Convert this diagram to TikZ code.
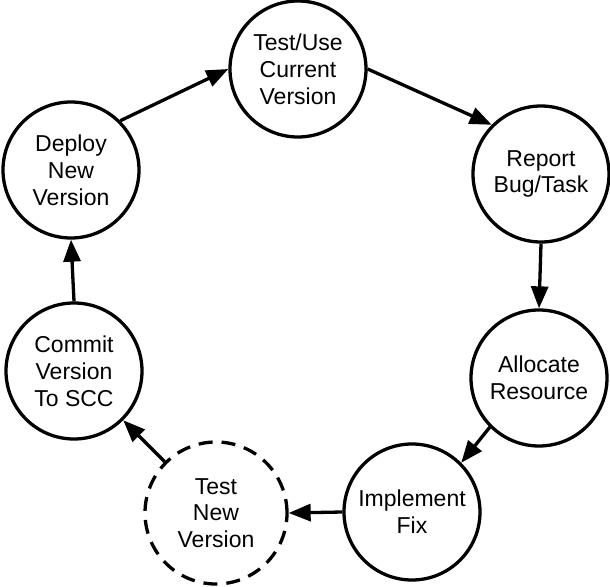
\documentclass[tikz,border=0pt]{standalone}
\usepackage{fontspec}
\setmainfont{Liberation Sans}
\usetikzlibrary{arrows.meta}
\begin{document}
\begin{tikzpicture}[x=1pt,y=-1pt,
  stage/.style={circle,draw,line width=3.3pt,minimum size=136pt,inner sep=0pt,align=center,
    font=\fontsize{23}{26.8}\selectfont},
  tentative/.style={stage,minimum size=142pt,dash pattern=on 14pt off 9pt},
  flow/.style={line width=3.3pt,-{Triangle[length=22pt,width=17pt]}}]
\useasboundingbox (0,0) rectangle (610,586);
\node[stage] (use) at (298,69) {Test/Use\\Current\\Version};
\node[stage] (report) at (541,174) {Report\\Bug/Task};
\node[stage] (alloc) at (539,378) {Allocate\\Resource};
\node[stage] (impl) at (412,512) {Implement\\Fix};
\node[tentative] (testnew) at (216,513) {Test\\New\\Version};
\node[stage] (commit) at (74,371) {Commit\\Version\\To SCC};
\node[stage] (deploy) at (71,170) {Deploy\\New\\Version};
\draw[flow] (deploy.45) -- (use.west);
\draw[flow] (use.east) -- (report.135);
\draw[flow] (report.south) -- (alloc.north);
\draw[flow] (alloc.225) -- (impl.45);
\draw[flow] (impl.west) -- (testnew.east);
\draw[flow] (testnew.135) -- (commit.-45);
\draw[flow] (commit.north) -- (deploy.south);
\end{tikzpicture}
\end{document}
